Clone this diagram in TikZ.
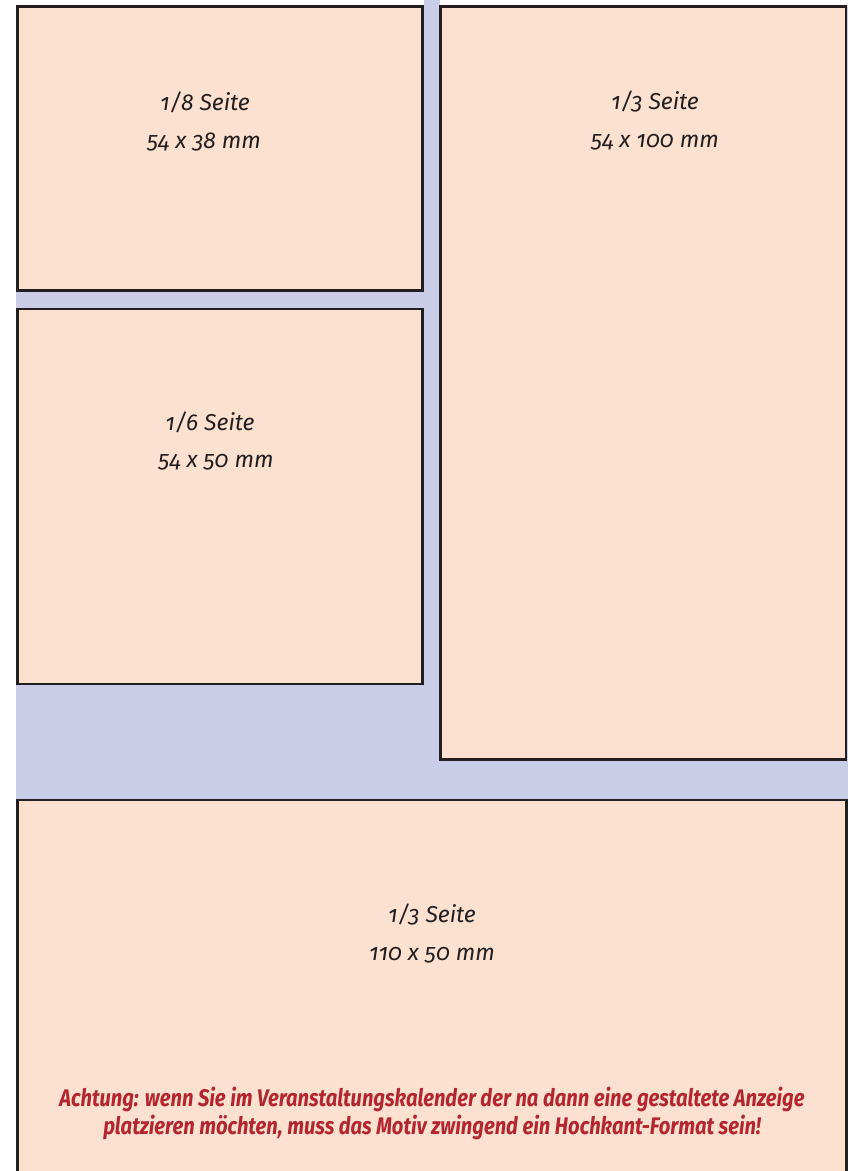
\documentclass[tikz,border=0pt]{standalone}
\usepackage{fontspec}
\setmainfont[Numbers=OldStyle]{Fira Sans}
\newfontfamily\redfont[FakeStretch=0.84,Numbers=OldStyle]{Fira Sans}
\definecolor{peach}{HTML}{FCE0D0}
\definecolor{bluebg}{HTML}{C9CDE7}
\definecolor{edge}{HTML}{231F20}
\definecolor{warn}{HTML}{B3262F}
\tikzset{
  adbox/.style={draw=edge, fill=peach, line width=2.8pt, anchor=north west, inner sep=0pt, outer sep=0pt},
  lbl/.style={font=\fontsize{23}{26}\selectfont\itshape, text=edge, inner sep=0pt},
  warnlbl/.style={font=\fontsize{24}{28}\selectfont\redfont\bfseries\itshape, text=warn, align=center, inner sep=0pt}
}
\begin{document}
\begin{tikzpicture}[x=1pt,y=-1pt]
\useasboundingbox (0,0) rectangle (852,1171);
\fill[white] (0,0) rectangle (852,1171);
\fill[bluebg] (16,0) rectangle (848,1171);
\fill[white] (16,0) rectangle (424,5);
\fill[white] (440,0) rectangle (848,5);
\node[adbox, minimum width=405.5pt, minimum height=284.5pt] (b1) at (17.2,6.2) {};
\node[adbox, minimum width=405.5pt, minimum height=375pt] (b2) at (17.2,309) {};
\node[adbox, minimum width=405.5pt, minimum height=753.5pt] (b3) at (440.5,6.2) {};
\node[adbox, minimum width=829pt, minimum height=380pt] (b4) at (17.2,800) {};
\node[lbl] (t1a) at (205,102) {1/8 Seite};
\node[lbl] (t1b) at (204,142) {54 x 38 mm};
\node[lbl] (t2a) at (210,422) {1/6 Seite};
\node[lbl] (t2b) at (216,462) {54 x 50 mm};
\node[lbl] (t3a) at (655,102) {1/3 Seite};
\node[lbl] (t3b) at (655,142) {54 x 100 mm};
\node[lbl] (t4a) at (432,915) {1/3 Seite};
\node[lbl] (t4b) at (432,955) {110 x 50 mm};
\node[warnlbl] (w) at (432,1113) {Achtung: wenn Sie im Veranstaltungskalender der na dann eine gestaltete Anzeige\\platzieren möchten, muss das Motiv zwingend ein Hochkant-Format sein!};
\end{tikzpicture}
\end{document}
